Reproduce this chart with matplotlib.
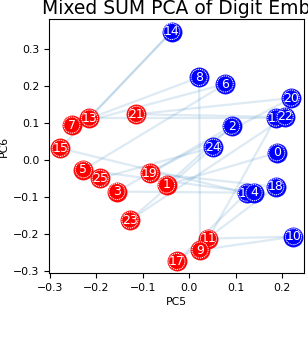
import matplotlib
matplotlib.use("Agg")
import matplotlib.pyplot as plt

# Data: digit embeddings projected on PC5 / PC6
labels = list(range(26))
pc5 = [0.188, -0.049, 0.091, -0.156, 0.139, -0.228, 0.077, -0.253, 0.021, 0.023,
       0.224, 0.041, 0.186, -0.215, -0.038, -0.278, 0.123, -0.027, 0.186, -0.085,
       0.219, -0.114, 0.206, -0.128, 0.051, -0.192]
pc6 = [0.019, -0.068, 0.091, -0.086, -0.089, -0.027, 0.205, 0.094, 0.223, -0.244,
       -0.208, -0.213, 0.113, 0.113, 0.347, 0.031, -0.090, -0.275, -0.073, -0.036,
       0.167, 0.123, 0.116, -0.163, 0.034, -0.050]
# consecutive digits are linked
edges = [(i, i + 1) for i in range(25)]
draw_order = [0, 1, 2, 3, 5, 6, 7, 8, 10, 11, 9, 12, 13, 14, 15, 16, 4,
              17, 18, 19, 20, 21, 22, 23, 24, 25]
xticks = [-0.3, -0.2, -0.1, 0.0, 0.1, 0.2]
yticks = [-0.3, -0.2, -0.1, 0.0, 0.1, 0.2, 0.3]
title = "Mixed SUM PCA of Digit Embeddings"

fig = plt.figure(figsize=(3.08, 3.40), dpi=100)
ax = fig.add_axes([49.3 / 308, 1 - 273.3 / 340, (304.5 - 49.3) / 308, (273.3 - 19.3) / 340])

for a, b in edges:
    ax.plot([pc5[a], pc5[b]], [pc6[a], pc6[b]], color="C0", alpha=0.15, lw=1.6,
            zorder=1, solid_capstyle="butt")

for k, i in enumerate(draw_order):
    col = "red" if i % 2 == 1 else "blue"
    z = 3 + k * 0.01
    ax.scatter([pc5[i]], [pc6[i]], s=190, color=col, edgecolors=col,
               linewidths=0.5, zorder=z)
    ax.scatter([pc5[i]], [pc6[i]], s=135, facecolors="none", edgecolors="white",
               linewidths=0.7, linestyle=(0, (1.2, 0.8)), zorder=z + 0.001)
    ax.text(pc5[i], pc6[i], str(labels[i]), color="white", fontsize=9,
            ha="center", va="center", zorder=z + 0.002)

ax.set_xlim(-0.3015, 0.2477)
ax.set_ylim(-0.307, 0.380)
ax.set_xticks(xticks)
ax.set_yticks(yticks)
ax.tick_params(labelsize=7.8, length=3.5, width=0.8)
ax.set_xlabel("PC5", fontsize=7.8, labelpad=3)
ax.set_ylabel("PC6", fontsize=7.8, labelpad=3)

fig.text(42 / 308, 1 - 13.5 / 340, title, ha="left", va="baseline", fontsize=13.5)

fig.savefig("out.png", dpi=100)
